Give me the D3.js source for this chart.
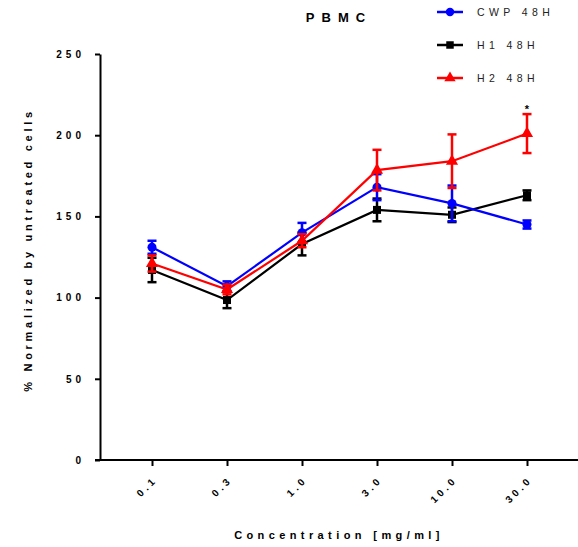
<!DOCTYPE html>
<html>
<head>
<meta charset="utf-8">
<script src="https://cdn.jsdelivr.net/npm/d3@7"></script>
<style>
  body { margin: 0; background: #fff; }
  svg { font-family: "Liberation Sans", Arial, sans-serif; }
</style>
</head>
<body>
<div id="chart"></div>
<script>
// ---- data ----
const concentrations = ["0.1", "0.3", "1.0", "3.0", "10.0", "30.0"];
const yTicks = [0, 50, 100, 150, 200, 250];

const cwpMean = [131, 107, 140, 168, 158, 145];
const cwpErr  = [4, 3, 6, 8, 11, 2.5];
const h1Mean  = [117, 98.5, 133, 154, 151, 163];
const h1Err   = [7.5, 5, 7, 7, 4.5, 3];
const h2Mean  = [121, 105, 135, 178.5, 184, 201];
const h2Err   = [5, 3, 4, 12.5, 16.5, 12];

const seriesNames = ["CWP 48H", "H1 48H", "H2 48H"];

const series = [
  { name: seriesNames[1], mean: h1Mean,  err: h1Err,  color: "#000000", symbol: d3.symbolSquare },
  { name: seriesNames[0], mean: cwpMean, err: cwpErr, color: "#0000ff", symbol: d3.symbolCircle },
  { name: seriesNames[2], mean: h2Mean,  err: h2Err,  color: "#ff0000", symbol: d3.symbolTriangle }
];
const legendOrder = [1, 0, 2];

// ---- layout ----
const W = 578, H = 547;
const svg = d3.select("#chart").append("svg")
  .attr("width", W).attr("height", H);

const x = d3.scalePoint()
  .domain(concentrations)
  .range([152, 527]);

const y = d3.scaleLinear()
  .domain([0, 250])
  .range([460, 54]);

// ---- axes ----
const yAxis = svg.append("g")
  .attr("transform", "translate(100,0)")
  .call(d3.axisLeft(y).tickValues(yTicks).tickSize(5).tickPadding(10).tickSizeOuter(0));
yAxis.select(".domain").attr("stroke-width", 2);
yAxis.selectAll(".tick line").attr("stroke-width", 2);
yAxis.selectAll(".tick text")
  .style("font-size", "10px").style("font-weight", "bold")
  .style("letter-spacing", "4px");

const xAxis = svg.append("g")
  .attr("transform", "translate(0,460)")
  .call(d3.axisBottom(x).tickSize(6).tickSizeOuter(0));
xAxis.select(".domain").attr("d", "M95,0H578").attr("stroke-width", 2);
xAxis.selectAll(".tick line").attr("stroke-width", 2);
xAxis.selectAll(".tick text")
  .style("font-size", "10px").style("font-weight", "bold")
  .style("letter-spacing", "3.4px")
  .attr("text-anchor", "end")
  .attr("dy", 0)
  .attr("transform", "translate(-1,14) rotate(-45)");

// ---- axis titles ----
svg.append("text")
  .attr("x", 339).attr("y", 539)
  .attr("text-anchor", "middle")
  .style("font-size", "11px").style("font-weight", "bold")
  .style("letter-spacing", "4.4px")
  .text("Concentration [mg/ml]");

svg.append("text")
  .attr("transform", "translate(32,250) rotate(-90)")
  .attr("text-anchor", "middle")
  .style("font-size", "11px").style("font-weight", "bold")
  .style("letter-spacing", "3.7px")
  .text("% Normalized by untreated cells");

svg.append("text")
  .attr("x", 339).attr("y", 22)
  .attr("text-anchor", "middle")
  .style("font-size", "13px").style("font-weight", "bold")
  .style("letter-spacing", "7px")
  .text("PBMC");

// ---- series ----
const line = d3.line()
  .x((d, i) => x(concentrations[i]))
  .y(d => y(d));

series.forEach(s => {
  const g = svg.append("g");
  const pts = concentrations.map((c, i) => ({ c, m: s.mean[i], e: s.err[i] }));

  g.append("path")
    .datum(s.mean)
    .attr("d", line)
    .attr("fill", "none")
    .attr("stroke", s.color)
    .attr("stroke-width", 2.2);

  const eb = g.selectAll(".err").data(pts).enter().append("g")
    .attr("stroke", s.color).attr("stroke-width", 2.5);
  eb.append("line")
    .attr("x1", d => x(d.c)).attr("x2", d => x(d.c))
    .attr("y1", d => y(d.m - d.e)).attr("y2", d => y(d.m + d.e));
  eb.append("line")
    .attr("x1", d => x(d.c) - 4.5).attr("x2", d => x(d.c) + 4.5)
    .attr("y1", d => y(d.m + d.e)).attr("y2", d => y(d.m + d.e));
  eb.append("line")
    .attr("x1", d => x(d.c) - 4.5).attr("x2", d => x(d.c) + 4.5)
    .attr("y1", d => y(d.m - d.e)).attr("y2", d => y(d.m - d.e));

  g.selectAll(".pt").data(pts).enter().append("path")
    .attr("transform", d => `translate(${x(d.c)},${y(d.m)})`)
    .attr("d", d3.symbol().type(s.symbol).size(64))
    .attr("fill", s.color);
});

// significance marker above H2 at 30.0
svg.append("text")
  .attr("x", x("30.0")).attr("y", y(h2Mean[5] + h2Err[5]) - 1)
  .attr("text-anchor", "middle")
  .style("font-size", "11px").style("font-weight", "bold")
  .text("*");

// ---- legend ----
const legend = svg.append("g");
legendOrder.forEach((k, i) => {
  const s = series[k];
  const ly = 12 + i * 33;
  legend.append("line")
    .attr("x1", 437).attr("x2", 463).attr("y1", ly).attr("y2", ly)
    .attr("stroke", s.color).attr("stroke-width", 2.5);
  legend.append("path")
    .attr("transform", `translate(450,${ly})`)
    .attr("d", d3.symbol().type(s.symbol).size(56))
    .attr("fill", s.color);
  legend.append("text")
    .attr("x", 477).attr("y", ly + 4)
    .style("font-size", "10.5px")
    .style("letter-spacing", "4.4px")
    .style("fill", "#222")
    .text(s.name);
});
</script>
</body>
</html>
